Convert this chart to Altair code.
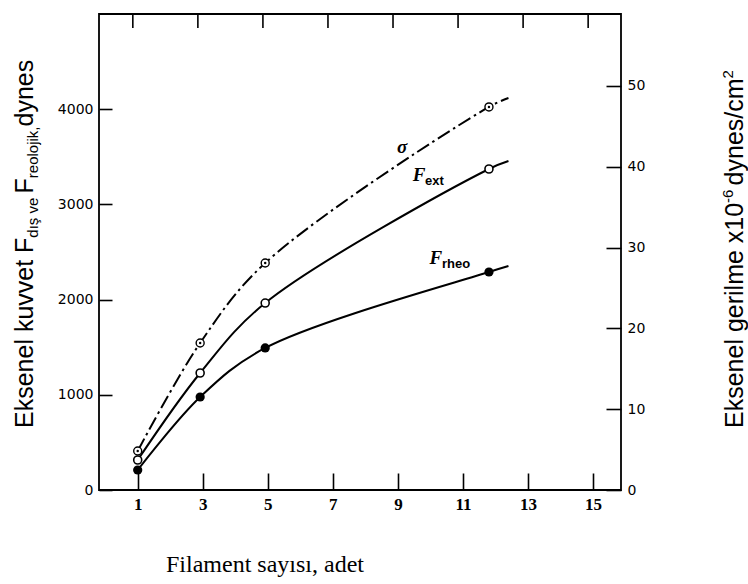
import altair as alt
import pandas as pd

# ---------------- data ----------------
x_pts = [1, 2.92, 4.92, 11.8]          # filament count at the markers
x_end = 12.4                           # where the drawn curves stop
sigma_vals = [4.83, 18.19, 28.09, 47.4]   # right axis (x10^-6 dynes/cm2)
sigma_end = 48.5
fext_vals = [315, 1229, 1964, 3372]       # left axis (dynes)
fext_end = 3456
frheo_vals = [210, 977, 1492, 2290]
frheo_end = 2353

x_ticks = [1, 3, 5, 7, 9, 11, 13, 15]
top_ticks = [0.85, 2.85, 4.85, 6.85, 8.85, 10.85, 12.85, 14.85]
left_ticks = [0, 1000, 2000, 3000, 4000]
right_ticks = [0, 10, 20, 30, 40, 50]
x_domain = [-0.19, 15.86]
left_domain = [0, 5000]
right_domain = [0, 58.9]

curve_names = ["σ", "F", "F"]
curve_subs = ["", "ext", "rheo"]
label_x = [9.13, 9.65, 10.17]
label_y = [3603, 3309, 2437]

x_title = "Filament sayısı, adet"
left_title = [("Eksenel kuvvet F", "big"), ("dış ve ", "small"), ("F", "big"),
              ("reolojik,", "small"), (" dynes", "big")]
right_title = [("Eksenel gerilme x10", "big"), ("-6 ", "small"),
               ("dynes/cm", "big"), ("2", "small")]

# ---------------- layout helpers ----------------
W, H = 522, 476
BIG, SMALL = 25, 15
TOP_TICK_PX = 14
SANS = "Liberation Sans, Arial, sans-serif"
SERIF = "Liberation Serif, Times New Roman, serif"
TICKFONT = "DejaVu Sans, sans-serif"
ARIAL_W = {'E': .667, 'k': .5, 's': .5, 'e': .556, 'n': .556, 'l': .222, ' ': .278,
           'u': .556, 'v': .5, 't': .278, 'F': .611, 'd': .556, 'ı': .278, 'ş': .5,
           'r': .333, 'o': .556, 'j': .222, 'i': .222, ',': .278, 'y': .5, 'g': .556,
           'm': .833, 'x': .5, '1': .556, '0': .556, '-': .333, '6': .556, '/': .278,
           'c': .5, '2': .556}


def text_width(s, size):
    return sum(ARIAL_W.get(ch, .55) for ch in s) * size


# ---------------- data frames ----------------
xs_line = x_pts + [x_end]
f_lines = pd.DataFrame({
    "x": xs_line * 2,
    "v": fext_vals + [fext_end] + frheo_vals + [frheo_end],
    "s": ["ext"] * 5 + ["rheo"] * 5,
})
fext_pts = pd.DataFrame({"x": x_pts, "v": fext_vals})
frheo_pts = pd.DataFrame({"x": x_pts, "v": frheo_vals})
sig_line = pd.DataFrame({"x": xs_line, "v": sigma_vals + [sigma_end]})
sig_pts = pd.DataFrame({"x": x_pts, "v": sigma_vals})
labels = pd.DataFrame({"x": label_x, "v": label_y, "name": curve_names, "sub": curve_subs})
# top frame ticks hang from the top of the left scale, TOP_TICK_PX long
tick_span = (left_domain[1] - left_domain[0]) * TOP_TICK_PX / H
top_df = pd.DataFrame({"tx": top_ticks,
                       "ya": [left_domain[1]] * len(top_ticks),
                       "yb": [left_domain[1] - tick_span] * len(top_ticks)})

xs = alt.Scale(domain=x_domain, nice=False, zero=False)
ls = alt.Scale(domain=left_domain, nice=False, zero=False)
rs = alt.Scale(domain=right_domain, nice=False, zero=False)

axis_common = dict(domain=False, grid=False, tickColor="black", tickWidth=1.6,
                   labelColor="black", labelFlush=False, labelOverlap=False, title=None,
                   format="d")

bottom_axis = alt.Axis(orient="bottom", values=x_ticks, offset=-17, tickSize=17,
                       labelFont=SERIF, labelFontWeight="bold", labelFontSize=17,
                       labelPadding=6, **axis_common)
left_axis = alt.Axis(orient="left", values=left_ticks, offset=-13, tickSize=13,
                     labelFont=TICKFONT, labelFontSize=14, labelPadding=6, **axis_common)
right_axis = alt.Axis(orient="right", values=right_ticks, offset=-15, tickSize=15,
                      labelFont=TICKFONT, labelFontSize=14, labelPadding=6, **axis_common)

# ---------------- force curves (left axis) ----------------
f_line_layer = alt.Chart(f_lines).mark_line(color="black", strokeWidth=2, interpolate="catmull-rom").encode(
    x=alt.X("x:Q", scale=xs, axis=bottom_axis),
    y=alt.Y("v:Q", scale=ls, axis=left_axis),
    detail="s:N",
)
fext_mark = alt.Chart(fext_pts).mark_circle(fill="white", stroke="black", strokeWidth=1.6,
                                            size=64, opacity=1).encode(
    x=alt.X("x:Q", scale=xs, axis=None), y=alt.Y("v:Q", scale=ls, axis=None))
frheo_mark = alt.Chart(frheo_pts).mark_circle(color="black", size=85, opacity=1).encode(
    x=alt.X("x:Q", scale=xs, axis=None), y=alt.Y("v:Q", scale=ls, axis=None))
name_text = alt.Chart(labels).mark_text(font=SERIF, fontStyle="italic", fontWeight="bold",
                                        fontSize=19, color="black", align="center",
                                        baseline="middle").encode(
    x=alt.X("x:Q", scale=xs, axis=None), y=alt.Y("v:Q", scale=ls, axis=None), text="name:N")
sub_text = alt.Chart(labels).mark_text(font=SANS, fontWeight="bold", fontSize=13, color="black",
                                       align="left", baseline="middle", dx=6, dy=6).encode(
    x=alt.X("x:Q", scale=xs, axis=None), y=alt.Y("v:Q", scale=ls, axis=None), text="sub:N")
top_layer = alt.Chart(top_df).mark_rule(color="black", strokeWidth=1.6).encode(
    x=alt.X("tx:Q", scale=xs, axis=None),
    y=alt.Y("ya:Q", scale=ls, axis=None),
    y2="yb:Q",
)

# ---------------- stress curve (right axis) ----------------
sig_line_layer = alt.Chart(sig_line).mark_line(color="black", strokeWidth=2, interpolate="catmull-rom",
                                               strokeDash=[14, 4, 2.5, 4]).encode(
    x=alt.X("x:Q", scale=xs, axis=None),
    y=alt.Y("v:Q", scale=rs, axis=right_axis),
)
sig_mark = alt.Chart(sig_pts).mark_circle(fill="white", stroke="black", strokeWidth=1.4,
                                          size=64, opacity=1).encode(
    x=alt.X("x:Q", scale=xs, axis=None), y=alt.Y("v:Q", scale=rs, axis=None))
sig_dot = alt.Chart(sig_pts).mark_circle(color="black", size=6, opacity=1).encode(
    x=alt.X("x:Q", scale=xs, axis=None), y=alt.Y("v:Q", scale=rs, axis=None))

# ---------------- titles (multi-size text pieces) ----------------
def rotated_title(pieces, base_x, start_y, small_shift):
    y = start_y
    out = []
    for txt, kind in pieces:
        size = BIG if kind == "big" else SMALL
        bx = base_x if kind == "big" else base_x + small_shift
        out.append(
            alt.Chart(pd.DataFrame({"t": [txt]})).mark_text(
                font=SANS, fontSize=size, color="black", angle=270, align="left",
                baseline="alphabetic").encode(text="t:N", x=alt.value(bx), y=alt.value(y))
        )
        y -= text_width(txt, size)
    return out


title_layers = []
title_layers += rotated_title(left_title, -66, 414, 5)
title_layers += rotated_title(right_title, 644, 414, -10)
title_layers.append(
    alt.Chart(pd.DataFrame({"t": [x_title]})).mark_text(
        font=SERIF, fontSize=24, color="black", align="left", baseline="alphabetic"
    ).encode(text="t:N", x=alt.value(67), y=alt.value(558))
)

chart = alt.layer(
    f_line_layer, sig_line_layer, fext_mark, frheo_mark, sig_mark, sig_dot,
    name_text, sub_text, top_layer, *title_layers
).resolve_scale(y="independent").resolve_axis(x="independent", y="independent").properties(
    width=W, height=H,
    autosize=alt.AutoSizeParams(type="none"),
    padding={"left": 99, "top": 14, "right": 127, "bottom": 94},
).configure_view(stroke="black", strokeWidth=1.8)

chart.save("out.html", embed_options={"renderer": "svg", "actions": False})
